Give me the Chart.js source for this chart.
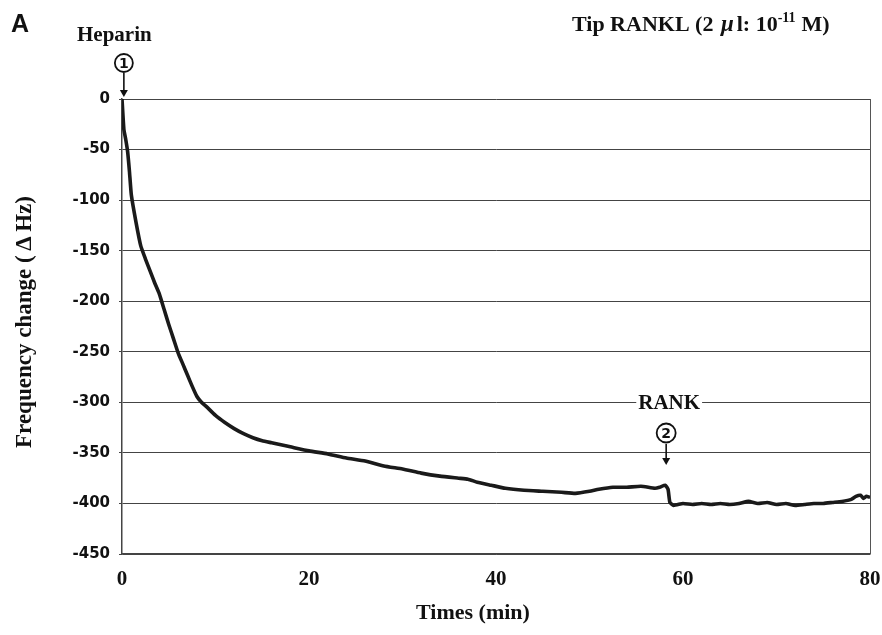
<!DOCTYPE html>
<html>
<head>
<meta charset="utf-8">
<script src="https://cdn.jsdelivr.net/npm/chart.js@4.4.1/dist/chart.umd.min.js"></script>
<style>
  html,body{margin:0;padding:0;background:#fff;}
  #wrap{width:882px;height:635px;position:relative;}
</style>
</head>
<body>
<div id="wrap"><canvas id="c" width="882" height="635"></canvas></div>
<script>
// time (min) and frequency change (Hz)
const times = [0, 0.2, 0.4, 0.6, 0.8, 1.0, 1.5, 2.0, 2.5, 3.0, 3.5, 4.0, 4.5, 5.0, 5.5, 6.0, 6.5, 7.0, 7.5, 8.0, 8.5, 9, 10, 11, 12, 13, 14, 15, 16, 18, 20, 22, 24, 26, 28, 30, 32, 34, 36, 37, 38, 39.5, 41, 43, 45, 47, 48.5, 50, 51, 52.5, 54, 55.5, 57, 57.5, 58.1, 58.4, 58.6, 59, 60, 61, 62, 63, 64, 65, 66, 67, 68, 69, 70, 71, 72, 73, 74, 75, 76, 77, 78, 78.5, 79, 79.3, 79.6, 80];
const freq  = [0, -30, -40, -52, -72, -95, -122, -145, -158, -170, -182, -193, -208, -223, -237, -251, -262, -273, -284, -294, -300, -304, -313, -320, -326, -331, -335, -338, -340, -344, -348, -351, -355, -358, -363, -366, -370, -373, -375, -376, -379, -382, -385, -387, -388, -389, -390, -388, -386, -384, -384, -383, -385, -384, -382, -386, -399, -402, -400, -401, -400, -401, -400, -401, -400, -398, -400, -399, -401, -400, -402, -401, -400, -400, -399, -398, -396, -393, -392, -395, -393, -394];
const xTicks = [0, 20, 40, 60, 80];
const yTicks = [0, -50, -100, -150, -200, -250, -300, -350, -400, -450];

const labels = {
  panel: 'A',
  start: 'Heparin',
  tip: 'Tip RANKL (2 ',
  add: 'RANK',
  xTitle: 'Times (min)',
  yTitle: 'Frequency change (\u2009\u0394\u2009Hz)'
};
const markAt = { heparin: 0.2, rank: 58.2 };

const serif = '"Liberation Serif", "Times New Roman", serif';

function circled(ctx, x, y, r, txt) {
  ctx.beginPath();
  ctx.arc(x, y, r, 0, Math.PI * 2);
  ctx.lineWidth = 1.8;
  ctx.strokeStyle = '#111';
  ctx.stroke();
  ctx.font = 'bold 14px "DejaVu Sans", sans-serif';
  ctx.textAlign = 'center';
  ctx.textBaseline = 'middle';
  ctx.fillStyle = '#111';
  ctx.fillText(txt, x, y + 1);
}
function arrowDown(ctx, x, y0, y1) {
  ctx.beginPath();
  ctx.moveTo(x, y0);
  ctx.lineTo(x, y1 - 4);
  ctx.lineWidth = 1.6;
  ctx.strokeStyle = '#111';
  ctx.stroke();
  ctx.beginPath();
  ctx.moveTo(x - 4, y1 - 7);
  ctx.lineTo(x + 4, y1 - 7);
  ctx.lineTo(x, y1);
  ctx.closePath();
  ctx.fillStyle = '#111';
  ctx.fill();
}

const decor = {
  id: 'decor',
  afterDraw(chart) {
    const { ctx, chartArea: a, scales } = chart;
    const sx = scales.x, sy = scales.y;
    ctx.save();
    // right border of the box
    ctx.beginPath();
    ctx.moveTo(a.right + 0.5, a.top);
    ctx.lineTo(a.right + 0.5, a.bottom);
    ctx.lineWidth = 1;
    ctx.strokeStyle = '#555';
    ctx.stroke();

    ctx.fillStyle = '#111';
    ctx.textBaseline = 'middle';

    // panel letter
    ctx.font = 'bold 25px "Liberation Sans", Arial, sans-serif';
    ctx.textAlign = 'left';
    ctx.fillText(labels.panel, 11, 25);

    // heparin marker
    const hx = sx.getPixelForValue(markAt.heparin);
    ctx.font = 'bold 21px ' + serif;
    ctx.textAlign = 'left';
    ctx.fillText(labels.start, 77, 36);
    circled(ctx, hx, 63, 9, '1');
    arrowDown(ctx, hx, 73, sy.getPixelForValue(0) - 2);

    // tip label with superscript
    let x = 572;
    const y = 25;
    ctx.textAlign = 'left';
    ctx.font = 'bold 22px ' + serif;
    ctx.fillText(labels.tip, x, y); x += ctx.measureText(labels.tip).width + 2;
    ctx.font = 'bold italic 23px ' + serif;
    ctx.fillText('\u03bc', x, y); x += ctx.measureText('\u03bc').width + 3;
    ctx.font = 'bold 22px ' + serif;
    ctx.fillText('l: 10', x, y); x += ctx.measureText('l: 10').width;
    ctx.font = 'bold 14px ' + serif;
    ctx.fillText('-11', x, y - 7); x += ctx.measureText('-11').width + 6;
    ctx.font = 'bold 22px ' + serif;
    ctx.fillText('M)', x, y);

    // RANK marker
    const rx = sx.getPixelForValue(markAt.rank);
    ctx.font = 'bold 21px ' + serif;
    const rw = ctx.measureText(labels.add).width;
    const ry = sy.getPixelForValue(-300);
    ctx.fillStyle = '#fff';
    ctx.fillRect(rx + 3 - rw / 2 - 2, ry - 9, rw + 4, 18);
    ctx.fillStyle = '#111';
    ctx.textAlign = 'center';
    ctx.fillText(labels.add, rx + 3, ry + 1);
    circled(ctx, rx, 433, 9.5, '2');
    arrowDown(ctx, rx, 444, 465);

    // axis titles
    ctx.font = 'bold 22px ' + serif;
    ctx.textAlign = 'center';
    ctx.fillText(labels.xTitle, 473, 613);
    ctx.translate(25, 322);
    ctx.rotate(-Math.PI / 2);
    ctx.font = 'bold 23px ' + serif;
    ctx.fillText(labels.yTitle, 0, 0);
    ctx.restore();
  }
};

new Chart(document.getElementById('c').getContext('2d'), {
  type: 'line',
  data: {
    datasets: [{
      data: times.map((t, i) => ({ x: t, y: freq[i] })),
      borderColor: '#1a1a1a',
      borderWidth: 3.6,
      pointRadius: 0,
      tension: 0.15,
      fill: false
    }]
  },
  options: {
    responsive: false,
    animation: false,
    layout: { padding: { left: 0, right: 12, top: 99, bottom: 0 } },
    plugins: { legend: { display: false }, tooltip: { enabled: false } },
    scales: {
      x: {
        type: 'linear', min: 0, max: 80,
        afterFit: s => { s.height = 81; s.paddingRight = 0; s.paddingLeft = 0; },
        afterBuildTicks: s => { s.ticks = xTicks.map(v => ({ value: v })); },
        grid: { display: false },
        border: { display: true, color: '#444', width: 1.5 },
        ticks: {
          color: '#111', padding: 5,
          font: { family: serif, size: 21, weight: 'bold' }
        }
      },
      y: {
        min: -450, max: 0,
        afterFit: s => { s.width = 122; },
        afterBuildTicks: s => { s.ticks = yTicks.map(v => ({ value: v })); },
        grid: { color: '#444', lineWidth: 1, tickLength: 3 },
        border: { display: true, color: '#444', width: 1.5 },
        ticks: {
          color: '#111', padding: 9,
          font: { family: '"DejaVu Sans", sans-serif', size: 15, weight: 'bold' }
        }
      }
    }
  },
  plugins: [decor]
});
</script>
</body>
</html>
